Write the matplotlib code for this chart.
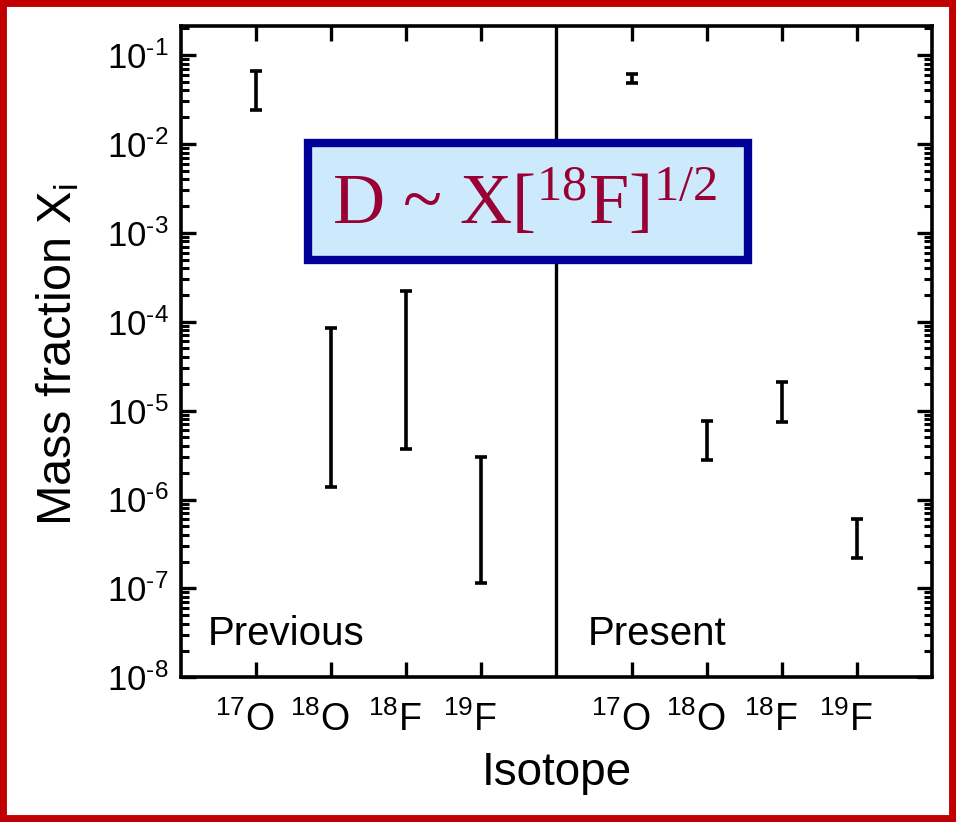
import numpy as np
import matplotlib.pyplot as plt
from matplotlib.patches import Rectangle
from matplotlib.ticker import FixedLocator, NullFormatter, FuncFormatter
from matplotlib.transforms import ScaledTranslation

plt.rcParams['font.family'] = ['Liberation Sans', 'DejaVu Sans']
plt.rcParams['mathtext.fontset'] = 'custom'
plt.rcParams['mathtext.rm'] = 'Liberation Sans'
plt.rcParams['mathtext.it'] = 'Liberation Sans'
plt.rcParams['mathtext.default'] = 'regular'
plt.rcParams['axes.unicode_minus'] = False
plt.rcParams['ytick.minor.visible'] = True

# isotopes, previous and present mass fraction ranges (lower / upper)
isotopes = ['$^{17}$O', '$^{18}$O', '$^{18}$F', '$^{19}$F']
prev_x = [1, 2, 3, 4]
pres_x = [6, 7, 8, 9]
prev_lo = [2.4e-2, 1.4e-6, 3.7e-6, 1.14e-7]
prev_hi = [6.6e-2, 8.4e-5, 2.2e-4, 3.0e-6]
pres_lo = [4.8e-2, 2.8e-6, 7.5e-6, 2.2e-7]
pres_hi = [6.1e-2, 7.6e-6, 2.1e-5, 6.0e-7]

fig = plt.figure(figsize=(9.56, 8.22), dpi=100)
ax = fig.add_axes([0.1893, 0.176, 0.9749 - 0.1893, 0.9684 - 0.176])

def draw_ranges(xs, lo, hi):
    lo = np.array(lo); hi = np.array(hi)
    mid = np.sqrt(lo * hi)
    ax.errorbar(xs, mid, yerr=[mid - lo, hi - mid], fmt='none', ecolor='black',
                elinewidth=2.6, capsize=4.5, capthick=2.6)

draw_ranges(prev_x, prev_lo, prev_hi)
draw_ranges(pres_x, pres_lo, pres_hi)

ax.axvline(5, color='black', lw=2.4)

ax.set_yscale('log')
ax.set_xlim(0, 10)
ax.set_ylim(1e-8, 0.212)
ax.set_xticks(prev_x + pres_x, isotopes + isotopes)
decades = 10.0 ** np.arange(-8, 0)
ax.yaxis.set_major_locator(FixedLocator(decades))
ax.yaxis.set_minor_locator(FixedLocator(np.outer(decades, np.arange(2, 10)).ravel()))
ax.yaxis.set_major_formatter(FuncFormatter(lambda v, p: r'10$^{\text{-%d}}$' % round(-np.log10(v))))
ax.yaxis.set_minor_formatter(NullFormatter())

for s in ax.spines.values():
    s.set_linewidth(2.6)
ax.tick_params(axis='x', which='major', direction='in', top=True, length=11, width=2.4,
               labelsize=27, pad=17)
ax.tick_params(axis='y', which='major', direction='in', left=True, right=True, length=11,
               width=2.4, labelsize=25, pad=9)
ax.tick_params(axis='y', which='minor', direction='in', left=True, right=True, length=6,
               width=2.2)
for lab in ax.get_xticklabels():
    lab.set_transform(lab.get_transform() + ScaledTranslation(-0.11, 0, fig.dpi_scale_trans))

ax.text(0.36, 2.3e-8, 'Previous', fontsize=29, va='baseline')
ax.text(5.41, 2.3e-8, 'Present', fontsize=29, va='baseline')

ax.set_xlabel('Isotope', fontsize=33)
ax.xaxis.set_label_coords(0.5, -0.113)
ax.set_ylabel('Mass fraction X$_i$', fontsize=35)
ax.yaxis.set_label_coords(-0.133, 0.495)

# formula box
bx0, bx1, by0, by1 = 308 / 956, 748 / 956, 1 - 260 / 822, 1 - 143 / 822
fig.patches.append(Rectangle((bx0, by0), bx1 - bx0, by1 - by0, transform=fig.transFigure,
                             facecolor='#cceafc', edgecolor='#000099', lw=6, zorder=5))
fig.text(525 / 956, 1 - 204 / 822, r'D ~ X[$^{18}$F]$^{1/2}$', fontsize=52,
         family='Liberation Serif', math_fontfamily='stix', color='#990033',
         ha='center', va='center', zorder=6)

# red frame
fig.patches.append(Rectangle((0, 0), 1, 1, transform=fig.transFigure, fill=False,
                             edgecolor='#c00000', lw=10, zorder=10))

fig.savefig('out.png', dpi=100)
